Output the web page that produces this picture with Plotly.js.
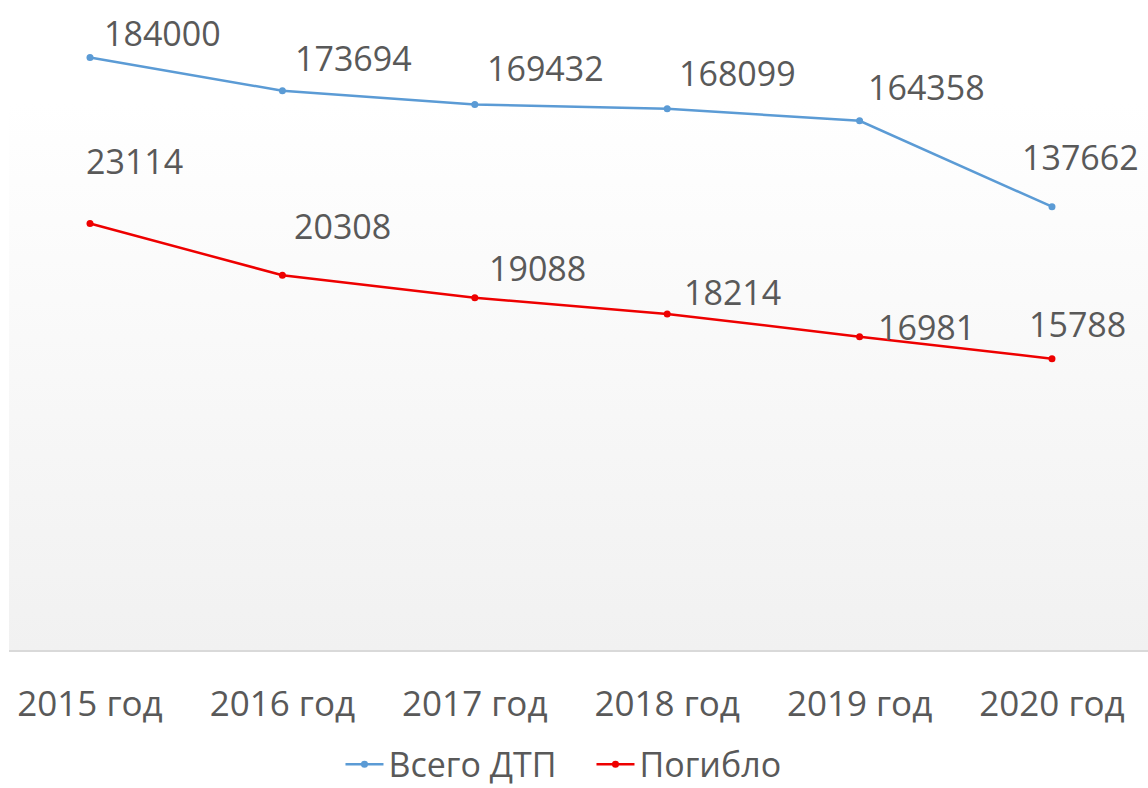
<!DOCTYPE html>
<html>
<head>
<meta charset="utf-8">
<script src="https://cdn.plot.ly/plotly-3.0.1.min.js"></script>
<style>
html,body{margin:0;padding:0;background:#fff;}
#chart{width:1148px;height:788px;}
</style>
</head>
<body>
<div id="chart"></div>
<script>
const categories = ["2015 год","2016 год","2017 год","2018 год","2019 год","2020 год"];
const totalAccidents = [184000,173694,169432,168099,164358,137662];
const deaths = [23114,20308,19088,18214,16981,15788];
const seriesNames = ["Всего ДТП","Погибло"];

// label offsets (pixels) for data labels
const totalLabelShift = [[72,25],[71,33],[71,36],[70,36],[67,34],[29,50]];
const deathLabelShift = [[44,62],[60,49],[63,30],[65,22],[67,10],[26,35]];

const textColor = "#595959";
const fontFam = "'Open Sans', 'Noto Sans', sans-serif";
const fs = 34;

const traces = [
  {x: categories, y: totalAccidents, name: seriesNames[0], type: "scatter", mode: "lines+markers",
   line: {color: "#5b9bd5", width: 2.5}, marker: {color: "#5b9bd5", size: 7}, yaxis: "y", cliponaxis: false},
  {x: categories, y: deaths, name: seriesNames[1], type: "scatter", mode: "lines+markers",
   line: {color: "#ee0000", width: 2.5}, marker: {color: "#ee0000", size: 7}, yaxis: "y2", cliponaxis: false}
];

const annotations = [];
categories.forEach((c, i) => {
  annotations.push({x: i, y: totalAccidents[i], xref: "x", yref: "y", text: String(totalAccidents[i]),
    showarrow: false, xshift: totalLabelShift[i][0], yshift: totalLabelShift[i][1],
    font: {family: fontFam, size: fs, color: textColor}});
  annotations.push({x: i, y: deaths[i], xref: "x", yref: "y2", text: String(deaths[i]),
    showarrow: false, xshift: deathLabelShift[i][0], yshift: deathLabelShift[i][1],
    font: {family: fontFam, size: fs, color: textColor}});
});

const gradSvg = '<svg xmlns="http://www.w3.org/2000/svg" width="100" height="100" preserveAspectRatio="none">' +
  '<defs><linearGradient id="g" x1="0" y1="0" x2="0" y2="1">' +
  '<stop offset="0" stop-color="#ffffff"/><stop offset="0.15" stop-color="#ffffff"/><stop offset="1" stop-color="#f1f1f1"/></linearGradient></defs>' +
  '<rect width="100" height="100" fill="url(#g)"/></svg>';

const layout = {
  width: 1148, height: 788,
  margin: {l: 9, r: 0, t: 6, b: 138, autoexpand: false},
  paper_bgcolor: "#ffffff",
  plot_bgcolor: "rgba(0,0,0,0)",
  showlegend: true,
  legend: {orientation: "h", x: 0.5114, xanchor: "center", y: -0.178, yanchor: "middle",
    font: {family: fontFam, size: fs, color: textColor}, itemwidth: 38, entrywidth: 198,
    traceorder: "normal", tracegroupgap: 0},
  xaxis: {type: "category", range: [-0.421, 5.499], showgrid: false, zeroline: false, automargin: false,
    showline: true, linecolor: "#d9d9d9", linewidth: 2, ticks: "",
    tickfont: {family: fontFam, size: 35, color: textColor}, ticklabelstandoff: 22},
  yaxis: {range: [0, 200000], visible: false, showgrid: false, zeroline: false, automargin: false},
  yaxis2: {range: [0, 34900], visible: false, showgrid: false, zeroline: false, overlaying: "y", automargin: false},
  annotations: annotations,
  images: [{source: "data:image/svg+xml;charset=utf-8," + encodeURIComponent(gradSvg),
    xref: "paper", yref: "paper", x: 0, y: 1, sizex: 1, sizey: 1, sizing: "stretch",
    xanchor: "left", yanchor: "top", layer: "below"}]
};

Plotly.newPlot("chart", traces, layout, {displayModeBar: false, staticPlot: true});
</script>
</body>
</html>
